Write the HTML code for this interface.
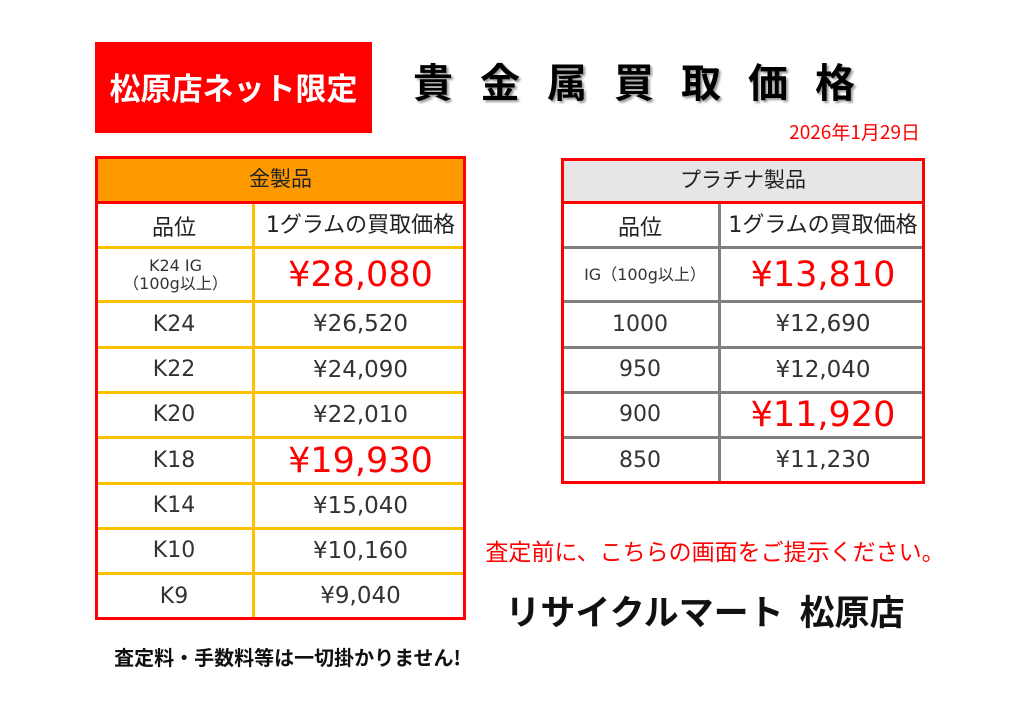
<!DOCTYPE html>
<html><head><meta charset="utf-8"><style>
*{box-sizing:border-box}
body{margin:0;width:1024px;height:716px;background:#fff;position:relative;overflow:hidden;font-family:"DejaVu Sans","Noto Sans CJK JP",sans-serif;color:#222}
.c{position:absolute;display:flex;align-items:center;justify-content:center;text-align:center;line-height:1.1;white-space:nowrap}
.h{position:absolute;height:3px}
.v{position:absolute;width:3px}
.r{color:#ff0000;font-size:35px}
.n{font-size:23px;color:#333}
.l{font-size:22px;color:#333}
</style></head><body>
<div class="c" style="left:95px;top:42px;width:277px;height:91px;background:#ff0000;color:#fff;font-size:31px;font-weight:bold;font-family:'Noto Sans CJK JP',sans-serif">松原店ネット限定</div>
<div style="position:absolute;left:413px;top:52px;height:56px;line-height:56px;white-space:nowrap;font-size:40px;font-weight:bold;color:#000;letter-spacing:27px;text-shadow:2px 2px 2px #999;font-family:'Noto Sans CJK JP',sans-serif">貴金属買取価格</div>
<div class="c" style="left:720px;top:119px;width:200px;height:26px;font-size:19px;color:#ff0000;justify-content:flex-end;font-family:'Noto Sans CJK JP',sans-serif">2026年1月29日</div>

<!-- Gold table -->
<div style="position:absolute;left:95px;top:156px;width:371px;height:46px;background:#ff9900"></div>
<div class="h" style="left:95px;width:371px;top:246px;background:#ffc000"></div>
<div class="h" style="left:95px;width:371px;top:300px;background:#ffc000"></div>
<div class="h" style="left:95px;width:371px;top:346px;background:#ffc000"></div>
<div class="h" style="left:95px;width:371px;top:391px;background:#ffc000"></div>
<div class="h" style="left:95px;width:371px;top:436px;background:#ffc000"></div>
<div class="h" style="left:95px;width:371px;top:482px;background:#ffc000"></div>
<div class="h" style="left:95px;width:371px;top:527px;background:#ffc000"></div>
<div class="h" style="left:95px;width:371px;top:572px;background:#ffc000"></div>
<div class="v" style="left:252px;top:202px;height:418px;background:#ffc000"></div>
<div class="h" style="left:95px;width:371px;top:201px;background:#ff0000"></div>
<div style="position:absolute;left:95px;top:156px;width:371px;height:464px;border:3px solid #ff0000"></div>
<div class="c" style="left:95px;top:156px;width:371px;height:46px;font-size:21px;color:#222;font-family:'Noto Sans CJK JP',sans-serif">金製品</div>
<div class="c l" style="left:95px;top:204px;width:158px;height:44px;color:#222;font-family:'Noto Sans CJK JP',sans-serif">品位</div>
<div class="c l" style="left:255px;top:204px;width:211px;height:44px;color:#222">1グラムの買取価格</div>
<div class="c" style="left:98px;top:249px;width:155px;height:52px;font-size:16px;color:#333">K24 IG<br>（100g以上）</div>
<div class="c r" style="left:255px;top:249px;width:211px;height:52px">¥28,080</div>
<div class="c l" style="left:95px;top:303px;width:158px;height:44px">K24</div>
<div class="c n" style="left:255px;top:303px;width:211px;height:44px">¥26,520</div>
<div class="c l" style="left:95px;top:349px;width:158px;height:43px">K22</div>
<div class="c n" style="left:255px;top:349px;width:211px;height:43px">¥24,090</div>
<div class="c l" style="left:95px;top:394px;width:158px;height:43px">K20</div>
<div class="c n" style="left:255px;top:394px;width:211px;height:43px">¥22,010</div>
<div class="c l" style="left:95px;top:439px;width:158px;height:44px">K18</div>
<div class="c r" style="left:255px;top:439px;width:211px;height:44px">¥19,930</div>
<div class="c l" style="left:95px;top:485px;width:158px;height:43px">K14</div>
<div class="c n" style="left:255px;top:485px;width:211px;height:43px">¥15,040</div>
<div class="c l" style="left:95px;top:530px;width:158px;height:43px">K10</div>
<div class="c n" style="left:255px;top:530px;width:211px;height:43px">¥10,160</div>
<div class="c l" style="left:95px;top:575px;width:158px;height:44px">K9</div>
<div class="c n" style="left:255px;top:575px;width:211px;height:44px">¥9,040</div>

<!-- Platinum table -->
<div style="position:absolute;left:561px;top:158px;width:364px;height:44px;background:#e6e6e6"></div>
<div class="h" style="left:561px;width:364px;top:246px;background:#808080"></div>
<div class="h" style="left:561px;width:364px;top:300px;background:#808080"></div>
<div class="h" style="left:561px;width:364px;top:346px;background:#808080"></div>
<div class="h" style="left:561px;width:364px;top:391px;background:#808080"></div>
<div class="h" style="left:561px;width:364px;top:436px;background:#808080"></div>
<div class="v" style="left:718px;top:202px;height:282px;background:#808080"></div>
<div style="position:absolute;left:561px;top:158px;width:364px;height:326px;border:3px solid #ff0000"></div>
<div class="h" style="left:561px;width:364px;top:201px;background:#ff0000"></div>
<div class="c" style="left:561px;top:158px;width:364px;height:44px;font-size:21px;color:#222;font-family:'Noto Sans CJK JP',sans-serif">プラチナ製品</div>
<div class="c l" style="left:561px;top:204px;width:158px;height:44px;color:#222;font-family:'Noto Sans CJK JP',sans-serif">品位</div>
<div class="c l" style="left:721px;top:204px;width:204px;height:44px;color:#222">1グラムの買取価格</div>
<div class="c" style="left:575px;top:249px;width:140px;height:52px;font-size:16px;color:#333">IG（100g以上）</div>
<div class="c r" style="left:721px;top:249px;width:204px;height:52px">¥13,810</div>
<div class="c l" style="left:561px;top:303px;width:158px;height:44px">1000</div>
<div class="c n" style="left:721px;top:303px;width:204px;height:44px">¥12,690</div>
<div class="c l" style="left:561px;top:349px;width:158px;height:43px">950</div>
<div class="c n" style="left:721px;top:349px;width:204px;height:43px">¥12,040</div>
<div class="c l" style="left:561px;top:394px;width:158px;height:43px">900</div>
<div class="c r" style="left:721px;top:394px;width:204px;height:43px">¥11,920</div>
<div class="c l" style="left:561px;top:439px;width:158px;height:44px">850</div>
<div class="c n" style="left:721px;top:439px;width:204px;height:44px">¥11,230</div>

<div class="c" style="left:475px;top:536px;width:480px;height:30px;font-size:23px;color:#ff0000;font-family:'Noto Sans CJK JP',sans-serif">査定前に、こちらの画面をご提示ください。</div>
<div class="c" style="left:485px;top:588px;width:440px;height:46px;font-size:35px;font-weight:bold;color:#111;font-family:'Noto Sans CJK JP',sans-serif">リサイクルマート&nbsp;&nbsp;松原店</div>
<div class="c" style="left:95px;top:643px;width:385px;height:28px;font-size:20px;font-weight:bold;color:#111;font-family:'Noto Sans CJK JP',sans-serif">査定料・手数料等は一切掛かりません!</div>
</body></html>
